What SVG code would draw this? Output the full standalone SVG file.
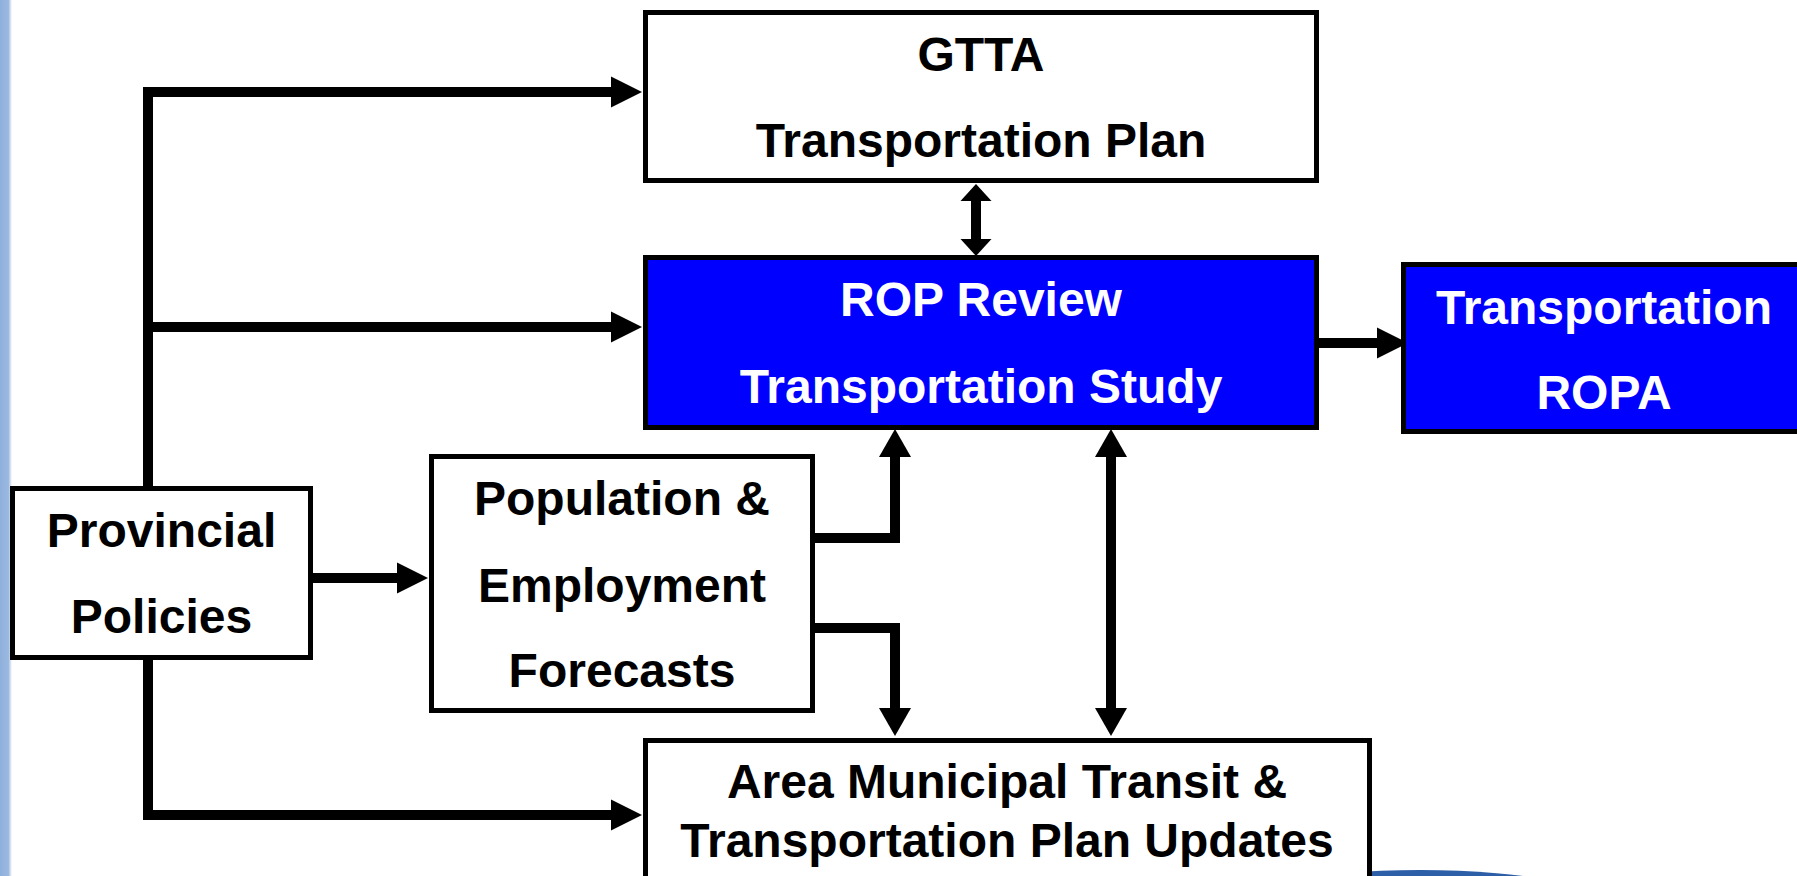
<svg xmlns="http://www.w3.org/2000/svg" width="1797" height="876" viewBox="0 0 1797 876">
  <style>
    .box { fill: #ffffff; stroke: #000000; stroke-width: 5; }
    .blue { fill: #0000ff; stroke: #000000; stroke-width: 5; }
    .lbl { font-family: "Liberation Sans", Arial, sans-serif; font-weight: bold; font-size: 48px; text-anchor: middle; fill: #000000; }
    .wlbl { fill: #ffffff; }
    .conn { fill: none; stroke: #000000; stroke-width: 10; stroke-linejoin: miter; stroke-linecap: butt; }
  </style>
  <defs>
    <marker id="ah" markerUnits="userSpaceOnUse" markerWidth="33" markerHeight="33" refX="1" refY="15.5" orient="auto-start-reverse" overflow="visible">
      <path d="M0,0 L31,15.5 L0,31 Z" fill="#000000"/>
    </marker>
    <marker id="ahm" markerUnits="userSpaceOnUse" markerWidth="33" markerHeight="33" refX="1" refY="16" orient="auto-start-reverse" overflow="visible">
      <path d="M0,0 L28,16 L0,32 Z" fill="#000000"/>
    </marker>
    <marker id="ahs" markerUnits="userSpaceOnUse" markerWidth="33" markerHeight="33" refX="1" refY="15.5" orient="auto-start-reverse" overflow="visible">
      <path d="M0,0 L17,15.5 L0,31 Z" fill="#000000"/>
    </marker>
    <linearGradient id="strip" x1="0" y1="0" x2="1" y2="0">
      <stop offset="0" stop-color="#8fb0dc"/>
      <stop offset="0.7" stop-color="#9ab8e0"/>
      <stop offset="1" stop-color="#ffffff"/>
    </linearGradient>
  </defs>

  <rect x="0" y="0" width="1797" height="876" fill="#ffffff"/>
  <rect x="0" y="0" width="12" height="876" fill="url(#strip)"/>
  <ellipse cx="1420" cy="912" rx="200" ry="42" fill="#2d5ea8"/>

  <g id="connectors">
    <path class="conn" d="M148,486 V92 H612" marker-end="url(#ah)"/>
    <path class="conn" d="M148,327 H612" marker-end="url(#ah)"/>
    <path class="conn" d="M313,578 H398" marker-end="url(#ah)"/>
    <path class="conn" d="M148,660 V815 H612" marker-end="url(#ah)"/>
    <path class="conn" d="M976,200 V240" marker-start="url(#ahs)" marker-end="url(#ahs)"/>
    <path class="conn" d="M815,538 H895 V456" marker-end="url(#ahm)"/>
    <path class="conn" d="M815,628 H895 V709" marker-end="url(#ahm)"/>
    <path class="conn" d="M1111,456 V709" marker-start="url(#ahm)" marker-end="url(#ahm)"/>
    <path class="conn" d="M1319,343 H1378" marker-end="url(#ah)"/>
  </g>

  <g id="gtta">
    <rect class="box" x="645.5" y="12.5" width="671" height="168"/>
    <text class="lbl" x="981" y="71">GTTA</text>
    <text class="lbl" x="981" y="157">Transportation Plan</text>
  </g>

  <g id="rop">
    <rect class="blue" x="645.5" y="257.5" width="671" height="170"/>
    <text class="lbl wlbl" x="981" y="316">ROP Review</text>
    <text class="lbl wlbl" x="981" y="403">Transportation Study</text>
  </g>

  <g id="ropa">
    <rect class="blue" x="1403.5" y="264.5" width="410" height="167"/>
    <text class="lbl wlbl" x="1604" y="324">Transportation</text>
    <text class="lbl wlbl" x="1604" y="409">ROPA</text>
  </g>

  <g id="provincial">
    <rect class="box" x="12.5" y="488.5" width="298" height="169"/>
    <text class="lbl" x="161.5" y="547">Provincial</text>
    <text class="lbl" x="161.5" y="633">Policies</text>
  </g>

  <g id="population">
    <rect class="box" x="431.5" y="456.5" width="381" height="254"/>
    <text class="lbl" x="622" y="515">Population &amp;</text>
    <text class="lbl" x="622" y="602">Employment</text>
    <text class="lbl" x="622" y="687">Forecasts</text>
  </g>

  <g id="area">
    <rect class="box" x="645.5" y="740.5" width="724" height="160"/>
    <text class="lbl" x="1007" y="798">Area Municipal Transit &amp;</text>
    <text class="lbl" x="1007" y="857">Transportation Plan Updates</text>
  </g>
</svg>
